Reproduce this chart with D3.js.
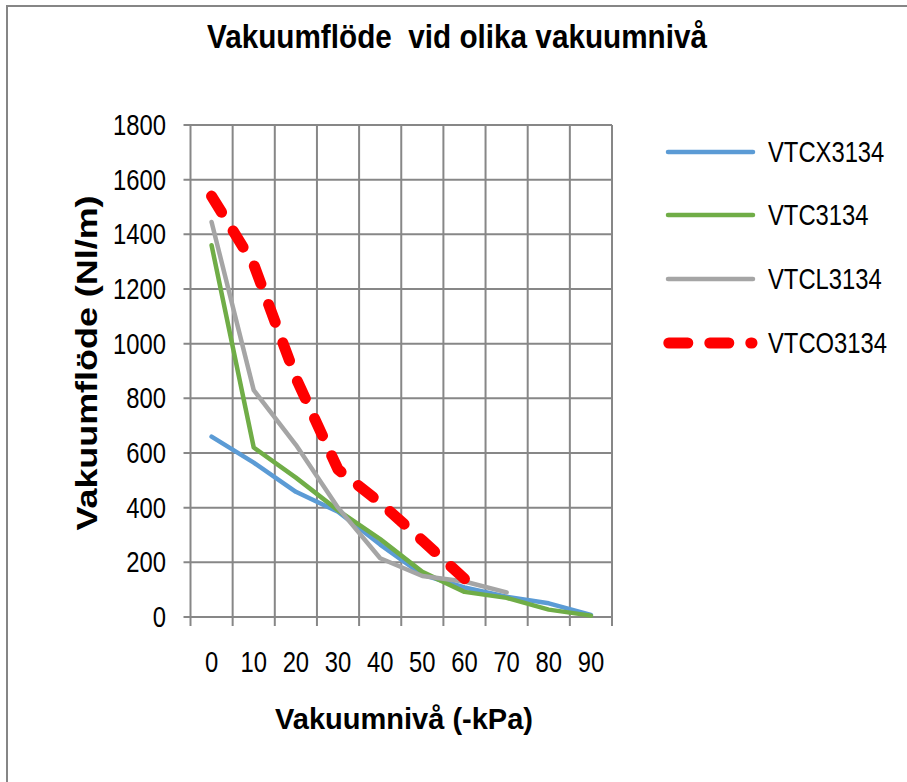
<!DOCTYPE html>
<html>
<head>
<meta charset="utf-8">
<script src="https://cdn.jsdelivr.net/npm/d3@7"></script>
<style>
  html, body { margin: 0; padding: 0; background: #fff; }
  svg { display: block; }
  text { font-family: 'Liberation Sans', Arial, sans-serif; fill: #000; }
</style>
</head>
<body>
<svg id="chart" width="907" height="782"></svg>
<script>
// ---- data ----
const categories = ["0", "10", "20", "30", "40", "50", "60", "70", "80", "90"];
const VTCX3134 = [660, 565, 458, 385, 265, 155, 108, 74, 50, 8];
const VTC3134  = [1360, 620, 510, 390, 285, 165, 92, 70, 27, 5];
const VTCL3134 = [1445, 830, 630, 400, 215, 150, 130, 90];
const VTCO3134 = [1540, 1290, 875, 540, 418, 280, 140];
const yTicks = [0, 200, 400, 600, 800, 1000, 1200, 1400, 1600, 1800];
const seriesNames = ["VTCX3134", "VTC3134", "VTCL3134", "VTCO3134"];
const seriesValues = [VTCX3134, VTC3134, VTCL3134, VTCO3134];
const title = "Vakuumflöde  vid olika vakuumnivå";
const xTitle = "Vakuumnivå (-kPa)";
const yTitle = "Vakuumflöde (Nl/m)";

// ---- styles ----
const colors = ["#5B9BD5", "#70AD47", "#A5A5A5", "#FF0000"];
const widths = [4.5, 4.5, 4.5, 11];
const dashes = [null, null, null, "19 22"];
const NARROW = 0.82;

const svg = d3.select("#chart");
const L = 190.5, R = 612, T = 125, B = 617;

function narrow(sel) {
  sel.each(function () {
    const w = this.getComputedTextLength();
    d3.select(this).attr("textLength", w * NARROW).attr("lengthAdjust", "spacingAndGlyphs");
  });
}

// chart border
svg.append("rect").attr("x", 7).attr("y", 6).attr("width", 960).attr("height", 860)
  .attr("fill", "none").attr("stroke", "#868686").attr("stroke-width", 2);

const x = d3.scaleBand().domain(categories).range([L, R]).padding(0);
const y = d3.scaleLinear().domain([0, 1800]).range([B, T]);
const cx = c => x(c) + x.bandwidth() / 2;

const grid = svg.append("g");
grid.selectAll("line.h").data(yTicks).join("line")
  .attr("x1", L - 7).attr("x2", R).attr("y1", d => y(d)).attr("y2", d => y(d))
  .attr("stroke", "#878787").attr("stroke-width", 2);
const bounds = categories.map(c => x(c)).concat([R]);
grid.selectAll("line.v").data(bounds).join("line")
  .attr("x1", d => d).attr("x2", d => d).attr("y1", T).attr("y2", B + 9)
  .attr("stroke", "#878787").attr("stroke-width", 2);

// y tick labels
svg.append("g").selectAll("text").data(yTicks).join("text")
  .attr("x", 166).attr("y", d => y(d)).attr("dy", "0.35em")
  .attr("text-anchor", "end").attr("font-size", 29)
  .text(d => d).call(narrow);

// x tick labels
svg.append("g").selectAll("text").data(categories).join("text")
  .attr("x", d => cx(d)).attr("y", 672)
  .attr("text-anchor", "middle").attr("font-size", 29)
  .text(d => d).call(narrow);

// lines
const line = d3.line().x((d, i) => cx(categories[i])).y(d => y(d));
seriesValues.forEach((vals, k) => {
  svg.append("path").datum(vals)
    .attr("d", line)
    .attr("fill", "none")
    .attr("stroke", colors[k])
    .attr("stroke-width", widths[k])
    .attr("stroke-linecap", "round")
    .attr("stroke-linejoin", "round")
    .attr("stroke-dasharray", dashes[k]);
});

// legend
const legY = [152, 215, 279, 343];
const lg = svg.append("g");
seriesNames.forEach((name, k) => {
  const x1 = k === 3 ? 668.8 : 668;
  const x2 = k === 3 ? 752 : 753;
  lg.append("line").attr("x1", x1).attr("x2", x2).attr("y1", legY[k]).attr("y2", legY[k])
    .attr("stroke", colors[k]).attr("stroke-width", widths[k])
    .attr("stroke-linecap", "round").attr("stroke-dasharray", dashes[k]);
  lg.append("text").attr("x", 768).attr("y", legY[k]).attr("dy", "0.35em")
    .attr("font-size", 29).text(name).call(narrow);
});

// titles
svg.append("text").attr("x", 457).attr("y", 48).attr("text-anchor", "middle")
  .attr("font-size", 33).attr("font-weight", "bold").attr("xml:space", "preserve")
  .text(title).attr("textLength", 500).attr("lengthAdjust", "spacingAndGlyphs");
svg.append("text").attr("x", 404).attr("y", 729).attr("text-anchor", "middle")
  .attr("font-size", 30).attr("font-weight", "bold")
  .text(xTitle).attr("textLength", 258).attr("lengthAdjust", "spacingAndGlyphs");
svg.append("text").attr("transform", "translate(97,363) rotate(-90)")
  .attr("text-anchor", "middle").attr("font-size", 30).attr("font-weight", "bold")
  .text(yTitle).attr("textLength", 335).attr("lengthAdjust", "spacingAndGlyphs");
</script>
</body>
</html>
